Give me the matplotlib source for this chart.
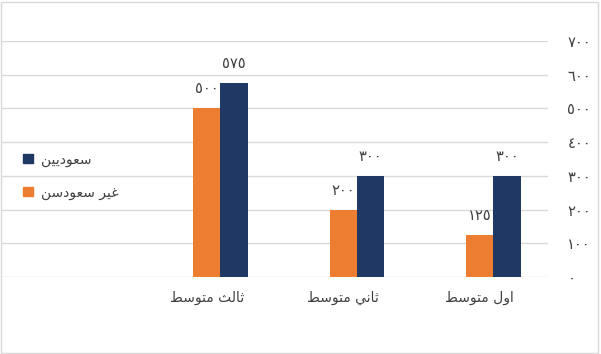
import numpy as np
import matplotlib.pyplot as plt
from matplotlib.patches import Patch, Rectangle

# categories listed right-to-left as in the chart
categories = ["اول متوسط", "ثاني متوسط", "ثالث متوسط"]
saudi = [300, 300, 575]
non_saudi = [125, 200, 500]
series_names = ["سعوديين", "غير سعودسن"]
yticks = [0, 100, 200, 300, 400, 500, 600, 700]

BLUE = "#203864"
ORANGE = "#ED7D31"
TEXT = "#404040"
GRID = "#D9D9D9"

# contextual forms: isolated, final, initial, medial (None = no joining to the left)
FORMS = {
    "ا": ("\uFE8D", "\uFE8E", None, None),
    "ت": ("\uFE95", "\uFE96", "\uFE97", "\uFE98"),
    "ث": ("\uFE99", "\uFE9A", "\uFE9B", "\uFE9C"),
    "د": ("\uFEA9", "\uFEAA", None, None),
    "ر": ("\uFEAD", "\uFEAE", None, None),
    "س": ("\uFEB1", "\uFEB2", "\uFEB3", "\uFEB4"),
    "ط": ("\uFEC1", "\uFEC2", "\uFEC3", "\uFEC4"),
    "ع": ("\uFEC9", "\uFECA", "\uFECB", "\uFECC"),
    "غ": ("\uFECD", "\uFECE", "\uFECF", "\uFED0"),
    "ل": ("\uFEDD", "\uFEDE", "\uFEDF", "\uFEE0"),
    "م": ("\uFEE1", "\uFEE2", "\uFEE3", "\uFEE4"),
    "ن": ("\uFEE5", "\uFEE6", "\uFEE7", "\uFEE8"),
    "و": ("\uFEED", "\uFEEE", None, None),
    "ي": ("\uFEF1", "\uFEF2", "\uFEF3", "\uFEF4"),
}


def shape(text):
    # join letters and put them in visual (left-to-right) order
    out = []
    for i, ch in enumerate(text):
        if ch not in FORMS:
            out.append(ch)
            continue
        prev = text[i - 1] if i > 0 else ""
        nxt = text[i + 1] if i + 1 < len(text) else ""
        jp = prev in FORMS and FORMS[prev][2] is not None
        jn = nxt in FORMS and FORMS[ch][2] is not None
        iso, fin, ini, med = FORMS[ch]
        if jp and jn:
            out.append(med)
        elif jp:
            out.append(fin)
        elif jn:
            out.append(ini)
        else:
            out.append(iso)
    return "".join(reversed(out))


def arabic_num(n):
    return str(n).translate({ord(str(d)): chr(0x0660 + d) for d in range(10)})


plt.rcParams["font.family"] = ["DejaVu Sans"]

fig = plt.figure(figsize=(6.01, 3.54), dpi=100)
ax = fig.add_axes([2 / 601, 77 / 354, 546 / 601, 236 / 354])

n = len(categories)
pos = np.array([n - i for i in range(n)])  # empty slot at 0 on the left
w = 0.2
b1 = ax.bar(pos, non_saudi, w, color=ORANGE, zorder=3)
b2 = ax.bar(pos + w, saudi, w, color=BLUE, zorder=3)

for bars, vals in ((b1, non_saudi), (b2, saudi)):
    for r, v in zip(bars, vals):
        ax.annotate(arabic_num(v), (r.get_x() + r.get_width() / 2, v),
                    xytext=(0, 14), textcoords="offset points",
                    ha="center", va="center", fontsize=10.5, color=TEXT)

ax.set_xlim(-0.5, n + 0.5)
ax.set_ylim(0, 700)
ax.set_xticks([0] + list(pos))
ax.set_xticklabels([""] + [shape(c) for c in categories], fontsize=10, color=TEXT)
ax.set_yticks(yticks)
ax.set_yticklabels([arabic_num(t) for t in yticks], fontsize=10.5, color=TEXT)
ax.yaxis.tick_right()
ax.tick_params(axis="y", length=0, pad=14)
ax.tick_params(axis="x", length=0, pad=10)
ax.grid(axis="y", color=GRID, linewidth=1, zorder=0)
for s in ax.spines.values():
    s.set_visible(False)

handles = [Patch(color=BLUE), Patch(color=ORANGE)]
fig.legend(handles, [shape(s) for s in series_names], loc="center left",
           bbox_to_anchor=(0.018, 0.503), frameon=False, fontsize=10,
           handlelength=0.7, handleheight=0.7, handletextpad=0.6,
           labelspacing=1.35, labelcolor=TEXT)

fig.patches.append(Rectangle((1 / 601, 1 / 354), 597 / 601, 351 / 354,
                             transform=fig.transFigure, fill=False,
                             edgecolor=GRID, linewidth=1))

fig.savefig("out.png", dpi=100)
